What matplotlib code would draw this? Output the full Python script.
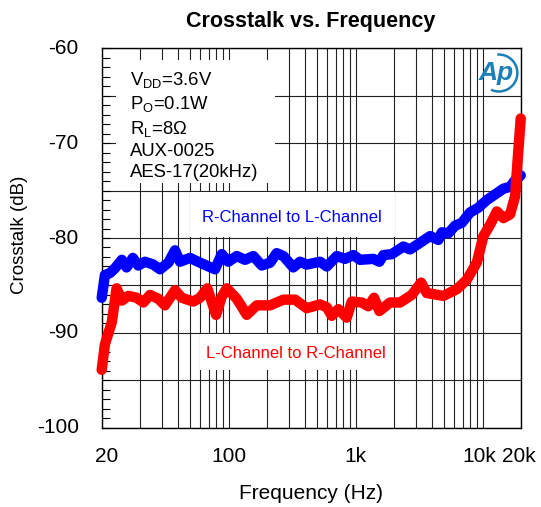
import matplotlib
matplotlib.use('Agg')
import matplotlib.pyplot as plt
from matplotlib.patches import Rectangle, Arc
from matplotlib.ticker import FixedLocator, MultipleLocator, NullFormatter

plt.rcParams['font.family'] = ['Liberation Sans', 'DejaVu Sans']
plt.rcParams['mathtext.fontset'] = 'custom'
plt.rcParams['mathtext.rm'] = 'Liberation Sans'

# R-Channel to L-Channel (blue), frequency in Hz on the plot scale, crosstalk in dB
freq_rl = [10, 10.6, 11.6, 12.7, 14.4, 15.7, 17.6, 19.4, 21.9, 25.5, 28.8, 33.5, 37.8, 41.4,
           49.6, 59.5, 78.1, 88.2, 99.5, 115.8, 134.7, 156.5, 182.3, 212, 239, 270, 323, 365,
           412, 525, 593, 711, 826, 961, 1085, 1381, 1540, 1656, 1929, 2381, 2688, 3224, 3865,
           4493, 4779, 5387, 6084, 6870, 7986, 9284, 10812, 12570, 14610, 16504, 18070, 20000]
xtalk_rl = [-86.3, -83.9, -83.7, -83.2, -82.3, -83.1, -82.1, -82.9, -82.5, -82.8, -83.3, -82.6,
            -81.3, -82.5, -82.1, -82.6, -83.3, -81.7, -82.5, -81.9, -82.3, -81.9, -82.9, -82.6,
            -81.6, -81.9, -83.1, -82.5, -82.8, -82.5, -83.0, -81.9, -82.2, -81.8, -82.3, -82.2,
            -82.5, -81.8, -81.7, -80.9, -81.2, -80.5, -79.8, -80.2, -79.4, -79.5, -78.7, -78.4,
            -77.3, -76.8, -76.0, -75.4, -74.8, -74.6, -73.9, -73.4]

# L-Channel to R-Channel (red)
freq_lr = [10, 10.6, 12.0, 13.1, 14.4, 16.2, 18.9, 21.3, 24.0, 27.9, 31.5, 37.8, 42.7, 52.7,
           59.5, 67.9, 79.6, 88.2, 96.6, 115.8, 138.9, 166.5, 212, 270, 334, 412, 525, 593,
           649, 732, 852, 933, 1119, 1262, 1399, 1540, 1870, 2242, 2773, 3282, 3640, 4920,
           6274, 7522, 9018, 10165, 11480, 12966, 14610, 16504, 18070, 18840, 20000]
xtalk_lr = [-93.9, -91.2, -88.9, -85.3, -86.6, -86.1, -86.3, -86.8, -86.0, -86.4, -87.1, -85.5,
            -86.3, -86.7, -86.3, -85.3, -88.1, -86.2, -85.3, -86.4, -88.1, -87.1, -87.1, -86.5,
            -86.5, -87.4, -87.0, -87.3, -88.2, -87.5, -88.4, -86.7, -86.8, -87.2, -86.3, -87.7,
            -86.8, -86.8, -86.0, -84.7, -85.8, -86.1, -85.4, -84.4, -82.6, -79.8, -78.6, -77.2,
            -77.9, -77.5, -75.6, -72.1, -67.4]

xtick_pos = [11, 100, 1000, 9400, 19300]
xtick_lab = ['20', '100', '1k', '10k', '20k']
ytick_pos = [-100, -90, -80, -70, -60]

conditions = '$\\mathregular{V_{DD}}$=3.6V\n$\\mathregular{P_{O}}$=0.1W\n' \
             '$\\mathregular{R_{L}}$=8\u03a9\nAUX-0025\nAES-17(20kHz)'

fig = plt.figure(figsize=(5.41, 5.07), dpi=100)
ax = fig.add_axes([0.188, 0.1564, 0.7745, 0.7483])

ax.set_xscale('log')
ax.set_xlim(10, 20000)
ax.set_ylim(-100, -60)

# grid: every 5 dB, every log minor step
ax.yaxis.set_major_locator(MultipleLocator(5))
ax.yaxis.set_minor_locator(MultipleLocator(1))
ax.xaxis.set_major_locator(FixedLocator([10, 100, 1000, 10000]))
ax.xaxis.set_minor_locator(FixedLocator([m * d for d in (10, 100, 1000) for m in range(2, 10)] + [20000]))
ax.grid(True, which='both', color='#222222', linewidth=0.8)
ax.grid(False, which='minor', axis='y')
ax.set_axisbelow(True)

ax.xaxis.set_major_formatter(NullFormatter())
ax.xaxis.set_minor_formatter(NullFormatter())
ax.yaxis.set_major_formatter(NullFormatter())
ax.tick_params(axis='x', which='both', length=0)
ax.tick_params(axis='y', which='both', direction='in', length=5.8, width=0.8, left=True, right=False)
for s in ax.spines.values():
    s.set_linewidth(1.0)

# tick labels drawn as text so the grid keeps its own locators
for p, t in zip(xtick_pos, xtick_lab):
    ax.text(p, -0.052, t, transform=ax.get_xaxis_transform(), ha='center', va='top', fontsize=15)
for v in ytick_pos:
    ax.text(-0.055, v, str(v), transform=ax.get_yaxis_transform(), ha='right', va='center', fontsize=15)

# white boxes behind the annotations
ax.add_patch(Rectangle((0.033, 0.645), 0.381, 0.324, transform=ax.transAxes,
                       facecolor='white', edgecolor='none', zorder=1))
ax.add_patch(Rectangle((0.211, 0.503), 0.489, 0.118, transform=ax.transAxes,
                       facecolor='white', edgecolor='none', zorder=1))
ax.add_patch(Rectangle((0.235, 0.152), 0.46, 0.095, transform=ax.transAxes,
                       facecolor='white', edgecolor='none', zorder=1))

ax.plot(freq_rl, xtalk_rl, color='#0000ff', linewidth=7.5, solid_joinstyle='round',
        solid_capstyle='round', zorder=3, clip_on=False)
ax.plot(freq_lr, xtalk_lr, color='#ff0000', linewidth=7.5, solid_joinstyle='round',
        solid_capstyle='round', zorder=4, clip_on=False)

ax.text(0.067, 0.943, conditions, transform=ax.transAxes, ha='left', va='top',
        fontsize=13.3, linespacing=1.3, zorder=2)
ax.text(0.454, 0.553, 'R-Channel to L-Channel', transform=ax.transAxes, ha='center',
        va='center', fontsize=12, color='#0000ff', zorder=2)
ax.text(0.464, 0.196, 'L-Channel to R-Channel', transform=ax.transAxes, ha='center',
        va='center', fontsize=12, color='#ff0000', zorder=2)

fig.text(0.574, 0.958, 'Crosstalk vs. Frequency', ha='center', va='center',
         fontsize=15.5, fontweight='bold')
fig.text(0.574, 0.026, 'Frequency (Hz)', ha='center', va='center', fontsize=15)
fig.text(0.036, 0.536, 'Crosstalk (dB)', ha='center', va='center', fontsize=13.5, rotation=90)

# Ap logo
lg = fig.add_axes([476 / 541, 1 - 95 / 507, 44 / 541, 44 / 507])
lg.set_xlim(0, 1)
lg.set_ylim(0, 1)
lg.axis('off')
lg.add_patch(Arc((0.52, 0.5), 0.84, 0.84, theta1=-115, theta2=95, color='#1b7fb8', linewidth=1.8))
lg.text(0.45, 0.5, 'Ap', ha='center', va='center', fontsize=19, style='italic',
        fontweight='bold', color='#1b7fb8')

fig.savefig('out.png', dpi=100)
